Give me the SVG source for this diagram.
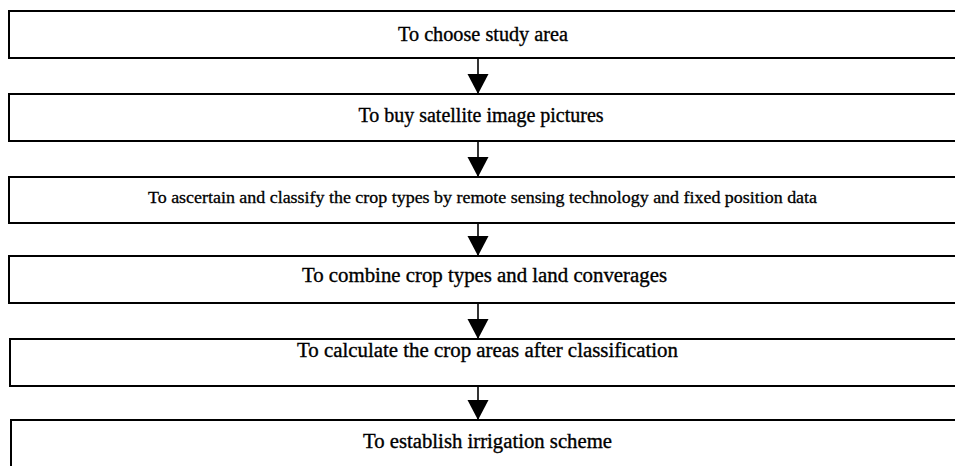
<svg xmlns="http://www.w3.org/2000/svg" width="955" height="466" viewBox="0 0 955 466">
<defs>
<style>
.box{fill:#fff;stroke:#000;stroke-width:2}
.t{font-family:"Liberation Serif","Times New Roman",serif;font-size:20px;fill:#000;stroke:#000;stroke-width:0.35;text-anchor:middle}
.s{font-size:16.5px;stroke-width:0.3}
.c{stroke:#000;stroke-width:1.6;fill:none}
</style>
<marker id="ah" markerUnits="userSpaceOnUse" markerWidth="21" markerHeight="22" viewBox="0 0 21 22" refX="20" refY="11" orient="auto">
<path d="M0,0.5 L20,11 L0,21.5 Z" fill="#000"/>
</marker>
</defs>
<g id="n1"><rect class="box" x="9" y="11" width="950" height="47"/><text class="t" x="483" y="41" textLength="170" lengthAdjust="spacingAndGlyphs">To choose study area</text></g>
<g id="n2"><rect class="box" x="9" y="94" width="950" height="47"/><text class="t" x="481" y="122">To buy satellite image pictures</text></g>
<g id="n3"><rect class="box" x="9" y="177" width="950" height="46"/><text class="t s" x="482.5" y="203" textLength="669" lengthAdjust="spacingAndGlyphs">To ascertain and classify the crop types by remote sensing technology and fixed position data</text></g>
<g id="n4"><rect class="box" x="9" y="256" width="950" height="47"/><text class="t" x="484.5" y="282" textLength="365" lengthAdjust="spacingAndGlyphs">To combine crop types and land converages</text></g>
<g id="n5"><rect class="box" x="10" y="339" width="950" height="47"/><text class="t" x="487.5" y="357" textLength="381" lengthAdjust="spacingAndGlyphs">To calculate the crop areas after classification</text></g>
<g id="n6"><rect class="box" x="11" y="420" width="950" height="50"/><text class="t" x="487.5" y="448" textLength="249" lengthAdjust="spacingAndGlyphs">To establish irrigation scheme</text></g>
<g id="connectors">
<line class="c" x1="478" y1="58" x2="478" y2="94" marker-end="url(#ah)"/>
<line class="c" x1="478" y1="141" x2="478" y2="177" marker-end="url(#ah)"/>
<line class="c" x1="478" y1="223" x2="478" y2="256" marker-end="url(#ah)"/>
<line class="c" x1="478" y1="303" x2="478" y2="339" marker-end="url(#ah)"/>
<line class="c" x1="478" y1="386" x2="478" y2="420" marker-end="url(#ah)"/>
</g>
</svg>
